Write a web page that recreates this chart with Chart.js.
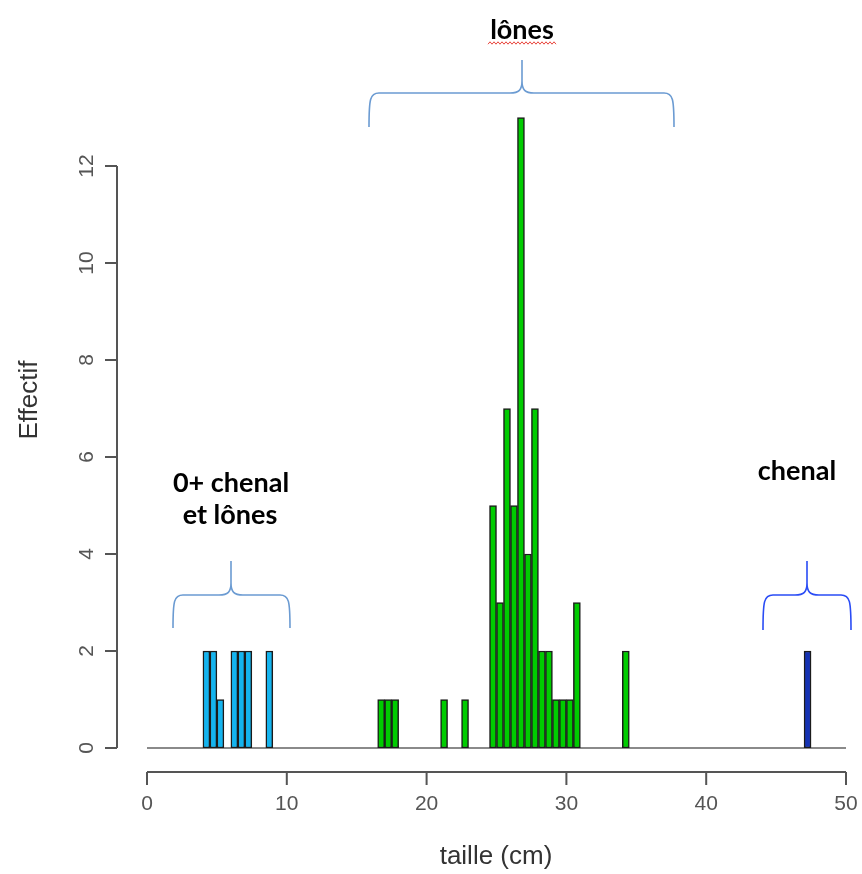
<!DOCTYPE html>
<html>
<head>
<meta charset="utf-8">
<script src="https://cdn.jsdelivr.net/npm/chart.js@4.4.0/dist/chart.umd.min.js"></script>
<style>
  body { margin: 0; background: #fff; }
  #wrap { width: 862px; height: 874px; }
</style>
</head>
<body>
<div id="wrap"><canvas id="hist" width="862" height="874"></canvas></div>
<script>
// histogram, bins of 0.5 cm (bin start + count)
const binWidth = 0.5;

const chenal0Bins = [4, 4.5, 5, 6, 6.5, 7, 8.5];
const chenal0Counts = [2, 2, 1, 2, 2, 2, 2];

const lonesBins = [16.5, 17, 17.5, 21, 22.5, 24.5, 25, 25.5, 26, 26.5, 27, 27.5, 28, 28.5, 29, 29.5, 30, 30.5, 34];
const lonesCounts = [1, 1, 1, 1, 1, 5, 3, 7, 5, 13, 4, 7, 2, 2, 1, 1, 1, 3, 2];

const chenalBins = [47];
const chenalCounts = [2];

const xTicks = [0, 10, 20, 30, 40, 50];
const yTicks = [0, 2, 4, 6, 8, 10, 12];
const xTitle = 'taille (cm)';
const yTitle = 'Effectif';

function toPoints(bins, counts) {
  return bins.map((b, i) => ({ x: b + binWidth / 2, y: counts[i] }));
}

const tickFont = '21px "Liberation Sans", Arial, sans-serif';
const titleFont = '26px "Liberation Sans", Arial, sans-serif';
const noteFont = 'bold 27px Lato, "Open Sans", sans-serif';

// R style axes, drawn from the chart scales
const rAxes = {
  id: 'rAxes',
  beforeDatasetsDraw(chart) {
    const ctx = chart.ctx;
    const xs = chart.scales.x, ys = chart.scales.y;
    ctx.save();
    ctx.strokeStyle = '#8a8a8a';
    ctx.lineWidth = 2;
    ctx.beginPath();
    ctx.moveTo(xs.getPixelForValue(0), ys.getPixelForValue(0));
    ctx.lineTo(xs.getPixelForValue(50), ys.getPixelForValue(0));
    ctx.stroke();
    ctx.restore();
  },
  afterDraw(chart) {
    const ctx = chart.ctx;
    const xs = chart.scales.x, ys = chart.scales.y;
    ctx.save();
    ctx.strokeStyle = '#555';
    ctx.lineWidth = 2;
    ctx.fillStyle = '#555';

    // y axis
    const ax = 117;
    ctx.beginPath();
    ctx.moveTo(ax, ys.getPixelForValue(yTicks[0]));
    ctx.lineTo(ax, ys.getPixelForValue(yTicks[yTicks.length - 1]));
    yTicks.forEach(v => {
      const p = ys.getPixelForValue(v);
      ctx.moveTo(ax, p);
      ctx.lineTo(ax - 12, p);
    });
    ctx.stroke();
    ctx.font = tickFont;
    ctx.textAlign = 'center';
    ctx.textBaseline = 'middle';
    yTicks.forEach(v => {
      ctx.save();
      ctx.translate(87, ys.getPixelForValue(v));
      ctx.rotate(-Math.PI / 2);
      ctx.fillText(String(v), 0, 0);
      ctx.restore();
    });

    // x axis
    const ay = 772;
    ctx.beginPath();
    ctx.moveTo(xs.getPixelForValue(xTicks[0]), ay);
    ctx.lineTo(xs.getPixelForValue(xTicks[xTicks.length - 1]), ay);
    xTicks.forEach(v => {
      const p = xs.getPixelForValue(v);
      ctx.moveTo(p, ay);
      ctx.lineTo(p, ay + 13);
    });
    ctx.stroke();
    xTicks.forEach(v => {
      ctx.fillText(String(v), xs.getPixelForValue(v), 804);
    });

    // titles
    ctx.fillStyle = '#333';
    ctx.font = titleFont;
    ctx.fillText(xTitle, 496, 857);
    ctx.save();
    ctx.translate(30, 400);
    ctx.rotate(-Math.PI / 2);
    ctx.fillText(yTitle, 0, 0);
    ctx.restore();
    ctx.restore();
  }
};

// braces and group labels pasted over the plot
function brace(ctx, x0, x1, xc, yTip, yMid, yPeak, color) {
  const r = 10, s = 12;
  ctx.strokeStyle = color;
  ctx.lineWidth = 1.6;
  ctx.beginPath();
  ctx.moveTo(x0, yTip);
  ctx.bezierCurveTo(x0, yMid + 6, x0 + 1, yMid, x0 + r, yMid);
  ctx.lineTo(xc - s, yMid);
  ctx.bezierCurveTo(xc - 3, yMid, xc, yMid - 3, xc, yMid - s);
  ctx.lineTo(xc, yPeak);
  ctx.moveTo(x1, yTip);
  ctx.bezierCurveTo(x1, yMid + 6, x1 - 1, yMid, x1 - r, yMid);
  ctx.lineTo(xc + s, yMid);
  ctx.bezierCurveTo(xc + 3, yMid, xc, yMid - 3, xc, yMid - s);
  ctx.stroke();
}

const notes = {
  id: 'notes',
  afterDraw(chart) {
    const ctx = chart.ctx;
    ctx.save();
    brace(ctx, 369, 674, 522, 127, 93, 60, '#6b9bd2');
    brace(ctx, 173, 290, 231, 628, 595, 561, '#6b9bd2');
    brace(ctx, 763, 851, 807, 630, 595, 561, '#2a4cf5');

    ctx.fillStyle = '#000';
    ctx.font = noteFont;
    ctx.textAlign = 'center';
    ctx.textBaseline = 'alphabetic';
    ctx.fillText('lônes', 522, 39);
    ctx.fillText('0+ chenal', 231, 492);
    ctx.fillText('et lônes', 230, 524);
    ctx.fillText('chenal', 797, 480);

    // spell-check squiggle under "lônes"
    ctx.strokeStyle = '#e8453c';
    ctx.lineWidth = 1;
    ctx.beginPath();
    for (let x = 488, k = 0; x <= 556; x += 2, k++) {
      const y = 43 + (k % 2 ? -1.2 : 1.2);
      if (k === 0) ctx.moveTo(x, y); else ctx.lineTo(x, y);
    }
    ctx.stroke();
    ctx.restore();
  }
};

const barStyle = {
  borderColor: '#1b1b1b',
  borderWidth: 1.5,
  borderSkipped: false,
  barPercentage: 1,
  categoryPercentage: 1,
  grouped: false
};

new Chart(document.getElementById('hist'), {
  type: 'bar',
  data: {
    datasets: [
      Object.assign({ label: '0+ chenal et lônes', data: toPoints(chenal0Bins, chenal0Counts), backgroundColor: '#14b4ef' }, barStyle),
      Object.assign({ label: 'lônes', data: toPoints(lonesBins, lonesCounts), backgroundColor: '#00cc00' }, barStyle),
      Object.assign({ label: 'chenal', data: toPoints(chenalBins, chenalCounts), backgroundColor: '#1432b4' }, barStyle)
    ]
  },
  options: {
    responsive: false,
    animation: false,
    layout: { padding: { left: 147, right: 16, top: 69, bottom: 126 } },
    plugins: { legend: { display: false }, tooltip: { enabled: false } },
    scales: {
      x: { type: 'linear', min: 0, max: 50, offset: false, display: false },
      y: { min: 0, max: 14, display: false }
    }
  },
  plugins: [rAxes, notes]
});
</script>
</body>
</html>
